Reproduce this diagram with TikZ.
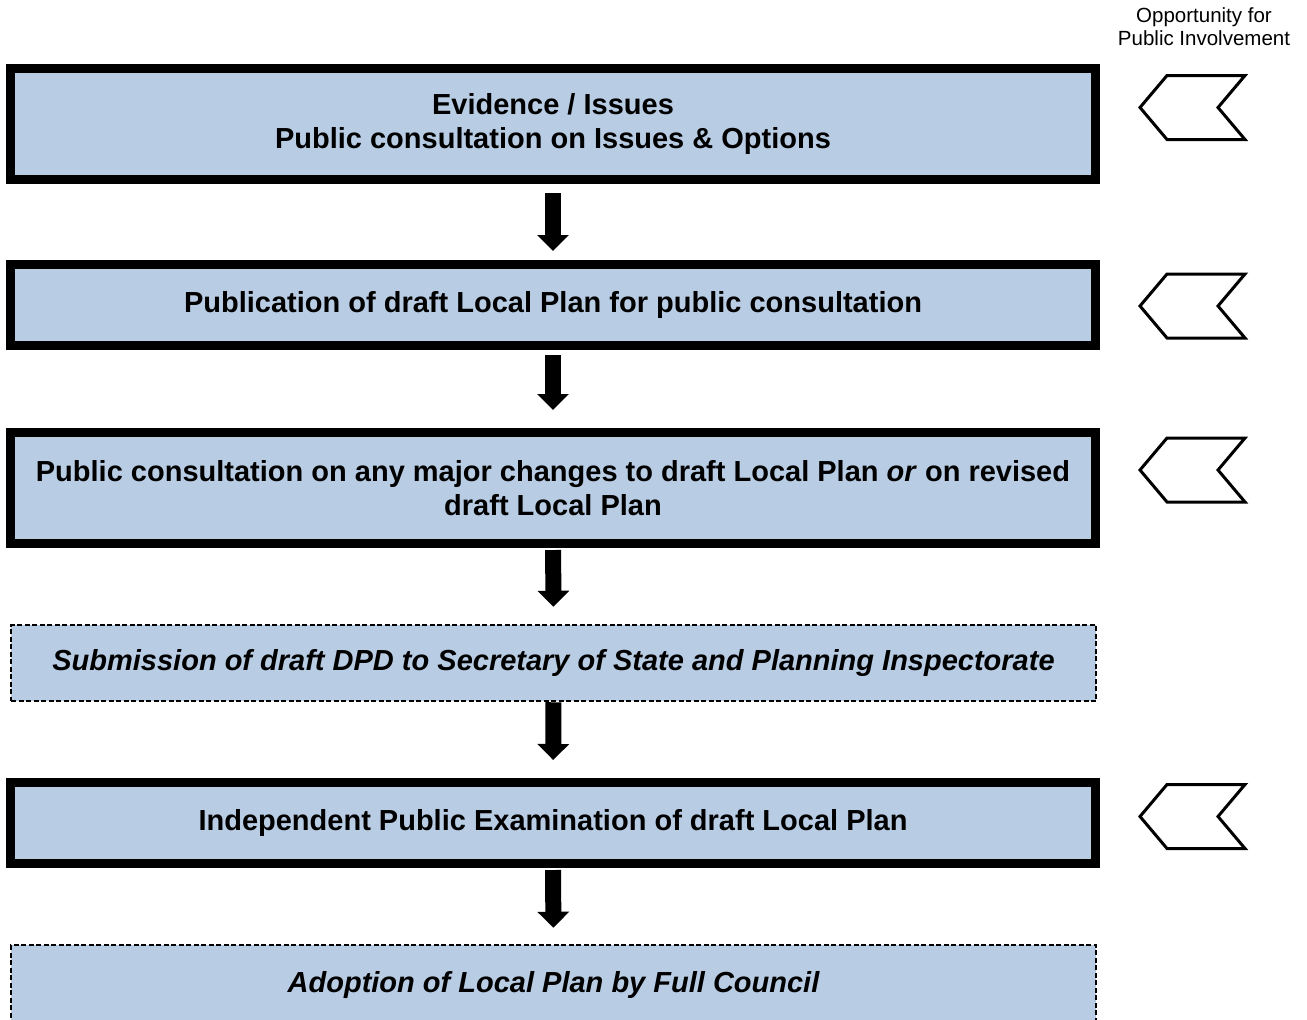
\documentclass[tikz,border=0pt]{standalone}
\usepackage{fontspec}
\setmainfont{Liberation Sans}
\usepackage{tikz}
\usetikzlibrary{arrows.meta, positioning}
\definecolor{stageblue}{RGB}{184, 204, 228}
\tikzstyle{stage} = [rectangle, draw=black, fill=stageblue, line width=9, minimum width=1085, align=center, font={\fontsize{29}{34}\selectfont\bfseries}]
\tikzstyle{formal} = [rectangle, draw=black, fill=stageblue, line width=2.5, dash pattern=on 5 off 2.5, minimum width=1085, align=center, font={\fontsize{29}{34}\selectfont\bfseries\itshape}]
\tikzstyle{flowarrow} = [-{Triangle[length=16, width=31]}, line width=16]
\tikzset{involve/.pic={
    \draw[line width=3, line join=miter] (-52.5,0) -- (-25.5,-32) -- (52.5,-32) -- (25.5,0) -- (52.5,32) -- (-25.5,32) -- cycle;
}}

\begin{document}
\begin{tikzpicture}[x=1pt, y=-1pt]
    \useasboundingbox (0,0) rectangle (1307,1020);

    % Column heading
    \node[align=center, font={\fontsize{20.5}{23}\selectfont}] (oppLabel) at (1204, 27) {Opportunity for\\Public Involvement};

    % Plan stages
    \node[stage, minimum height=111.5] (evidence) at (553, 124) {Evidence / Issues\\Public consultation on Issues \& Options};
    \node[stage, minimum height=81] (draft) at (553, 305) {Publication of draft Local Plan for public consultation};
    \node[stage, minimum height=111] (changes) at (553, 488) {Public consultation on any major changes to draft Local Plan \textit{or} on revised\\draft Local Plan};
    \node[formal, minimum height=76] (submission) at (553.5, 663) {Submission of draft DPD to Secretary of State and Planning Inspectorate};
    \node[stage, minimum height=81] (examination) at (553, 823) {Independent Public Examination of draft Local Plan};
    \node[formal, minimum height=80] (adoption) at (553.5, 985) {Adoption of Local Plan by Full Council};

    % Public involvement markers
    \pic at (1192.5, 107.5) {involve};
    \pic at (1192.5, 306) {involve};
    \pic at (1192.5, 470) {involve};
    \pic at (1192.5, 816.5) {involve};

    % Arrows
    \draw[flowarrow, shorten <=9, shorten >=9] (evidence) -- (draft);
    \draw[flowarrow, shorten <=5, shorten >=18] (draft) -- (changes);
    \draw[flowarrow, shorten <=2, shorten >=17] (changes) -- (submission);
    \draw[flowarrow, shorten <=0, shorten >=18] (submission) -- (examination);
    \draw[flowarrow, shorten <=2, shorten >=16] (examination) -- (adoption);
\end{tikzpicture}
\end{document}
